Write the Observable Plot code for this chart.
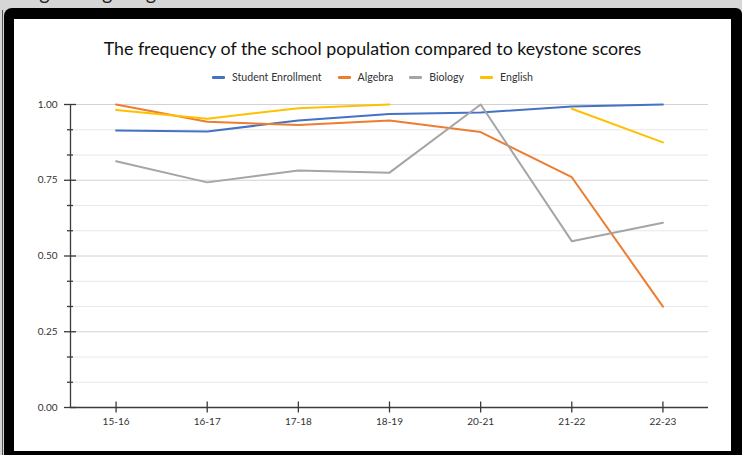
<!DOCTYPE html>
<html>
<head>
<meta charset="utf-8">
<script src="https://cdn.jsdelivr.net/npm/d3@7"></script>
<script src="https://cdn.jsdelivr.net/npm/@observablehq/plot@0.6"></script>
<style>
  html, body { margin: 0; padding: 0; }
  body { width: 742px; height: 455px; background: #d6d6d6; position: relative; overflow: hidden; font-family: Lato, "Open Sans", sans-serif; }
  #edge { position: absolute; left: 2px; top: 10px; width: 1px; height: 445px; background: #555; }
  .top { position: absolute; top: -20px; font-size: 20px; color: #222; white-space: pre; }
  #frame { position: absolute; left: 4px; top: 8px; width: 738px; height: 450px; background: #000; border-top-left-radius: 8px; border-top-right-radius: 6px; }
  #panel { position: absolute; left: 14px; top: 19px; width: 717px; height: 432px; background: #fff; }
  #title { position: absolute; left: 0; width: 717px; top: 18px; text-align: center; font-size: 17.8px; color: #111; font-family: Lato, sans-serif; }
  #legend { position: absolute; left: 0; width: 717px; top: 52px; display: flex; justify-content: center; align-items: center; font-size: 10.6px; color: #333; }
  .item { display: flex; align-items: center; margin: 0 8px; }
  .sw { width: 13px; height: 3px; margin-right: 7px; border-radius: 1px; }
  #chart { position: absolute; left: 0; top: 0; }
</style>
</head>
<body>
<div class="top" style="left:28px">ng</div>
<div class="top" style="left:86px">ing</div>
<div class="top" style="left:141px">ig</div>
<div id="edge"></div>
<div id="frame"></div>
<div id="panel">
  <div id="chart"></div>
  <div id="title"></div>
  <div id="legend"></div>
</div>
<script>
const titleText = "The frequency of the school population compared to keystone scores";
const years = ["15-16", "16-17", "17-18", "18-19", "20-21", "21-22", "22-23"];
const seriesNames = ["Student Enrollment", "Algebra", "Biology", "English"];
const seriesColors = ["#4472C4", "#ED7D31", "#A5A5A5", "#FFC000"];
const enrollment = [0.914, 0.911, 0.947, 0.969, 0.974, 0.993, 1.0];
const algebra    = [1.0, 0.943, 0.932, 0.947, 0.909, 0.760, 0.333];
const biology    = [0.813, 0.743, 0.782, 0.775, 1.0, 0.549, 0.610];
const english    = [0.982, 0.953, 0.988, 1.0, null, 0.986, 0.875];
const yMajor = [0, 0.25, 0.5, 0.75, 1];
const yMinor = [1, 2, 4, 5, 7, 8, 10, 11].map(k => k / 12);

document.getElementById("title").textContent = titleText;
const legend = document.getElementById("legend");
seriesNames.forEach((n, i) => {
  const it = document.createElement("div");
  it.className = "item";
  it.innerHTML = `<div class="sw" style="background:${seriesColors[i]}"></div><span>${n}</span>`;
  legend.appendChild(it);
});

const allSeries = [enrollment, algebra, biology, english];
const rows = [];
allSeries.forEach((vals, s) => vals.forEach((v, i) => rows.push({series: seriesNames[s], xi: i, v})));
const xIdx = d3.range(years.length);
const fmt = d3.format(".2f");

const axisColor = "#3a3a3a";
const chart = Plot.plot({
  width: 717,
  height: 432,
  marginLeft: 56,
  marginRight: 23,
  marginTop: 85,
  marginBottom: 44,
  style: {fontFamily: "Lato, sans-serif", fontSize: "10px", color: "#333", background: "transparent"},
  x: {type: "linear", domain: [-0.5, 6.5], axis: null},
  y: {domain: [0, 1], axis: null},
  color: {domain: seriesNames, range: seriesColors},
  marks: [
    Plot.ruleY(yMinor, {stroke: "#e8e8e8", strokeWidth: 1}),
    Plot.ruleY(yMajor.filter(d => d > 0), {stroke: "#d2d2d2", strokeWidth: 1}),
    Plot.ruleY(yMajor, {x1: -0.5, x2: -0.5, insetLeft: -6, insetRight: -6, stroke: axisColor, strokeWidth: 1.3}),
    Plot.ruleY(yMinor, {x1: -0.5, x2: -0.5, insetLeft: -3, insetRight: -3, stroke: axisColor, strokeWidth: 1.3}),
    Plot.text(yMajor, {y: d => d, text: d => fmt(d), frameAnchor: "left", textAnchor: "end", dx: -13, fill: "#333", fontSize: 10}),
    Plot.ruleX(xIdx, {x: d => d, y1: 0, y2: 0, insetTop: -5.5, insetBottom: -5.5, stroke: axisColor, strokeWidth: 1.3}),
    Plot.text(xIdx, {x: d => d, text: d => years[d], frameAnchor: "bottom", dy: 17, fill: "#333", fontSize: 10}),
    Plot.ruleY([0], {stroke: axisColor, strokeWidth: 1.3}),
    Plot.ruleX([-0.5], {stroke: axisColor, strokeWidth: 1.3}),
    Plot.line(rows, {x: "xi", y: "v", z: "series", stroke: "series", strokeWidth: 2, defined: d => d.v != null})
  ]
});
document.getElementById("chart").appendChild(chart);
</script>
</body>
</html>
